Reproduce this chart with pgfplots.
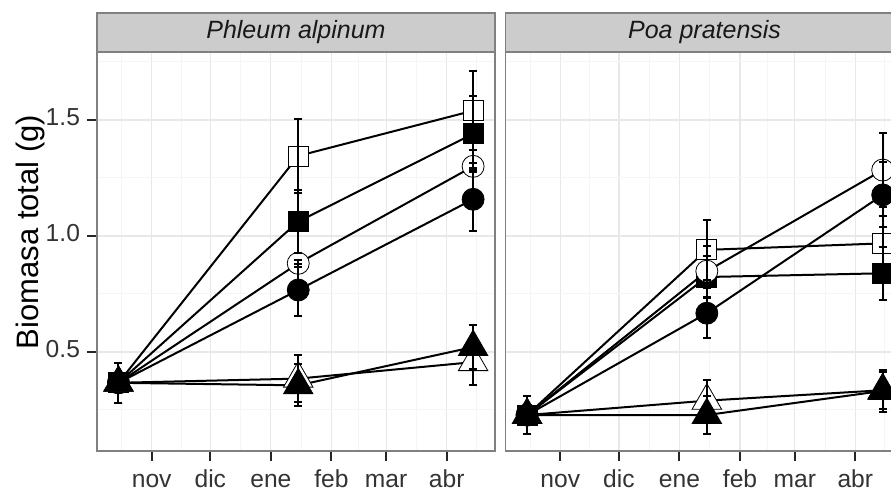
\documentclass[border=0pt]{standalone}
\usepackage{fontspec}
\setmainfont{Liberation Sans}
\usepackage{pgfplots}
\usepackage{pgfplotstable}
\pgfplotsset{compat=1.18}

\definecolor{stripfill}{gray}{0.8}
\definecolor{bordergray}{gray}{0.5}
\definecolor{gridmaj}{gray}{0.91}
\definecolor{gridmin}{gray}{0.96}

% columns: OS = open square, FS = filled square, OC = open circle,
% FC = filled circle, OT = open triangle, FT = filled triangle
\pgfplotstableread{
x     y1    e1    y2    e2    y3    e3    y4    e4    y5    e5    y6    e6
-17   0.367 0.085 0.367 0.085 0.367 0.085 0.367 0.085 0.367 0.085 0.367 0.085
75    1.345 0.160 1.062 0.135 0.882 0.015 0.767 0.110 0.385 0.100 0.356 0.090
164.5 1.540 0.170 1.440 0.165 1.300 0.015 1.158 0.135 0.456 0.100 0.521 0.095
}\leftdata

\pgfplotstableread{
x     y1    e1    y2    e2    y3    e3    y4    e4    y5    e5    y6    e6
-17   0.228 0.080 0.228 0.080 0.228 0.080 0.228 0.080 0.228 0.080 0.228 0.080
75    0.940 0.130 0.823 0.090 0.848 0.110 0.667 0.108 0.290 0.090 0.228 0.080
165   0.968 0.120 0.839 0.115 1.284 0.160 1.177 0.140 0.335 0.080 0.332 0.090
}\rightdata

\pgfplotsset{
  panel/.style={
    scale only axis, width=199pt, height=199.5pt,
    xmin=-28, xmax=175.7, ymin=0.073, ymax=1.793,
    clip=false, clip marker paths=true,
    xtick={0,30,61,92,120,151},
    xticklabels={nov,dic,ene,feb,mar,abr},
    minor xtick={-15.5,15,45.5,76.5,106,135.5,166},
    ytick={0.5,1,1.5},
    minor ytick={0.25,0.75,1.25,1.75},
    grid=both,
    major grid style={gridmaj, line width=0.6pt},
    minor grid style={gridmin, line width=0.5pt},
    minor tick length=0pt,
    major tick length=5pt,
    tick align=outside,
    tick pos=left,
    axis line style={bordergray, line width=0.6pt},
    major tick style={black!85, line width=1pt},
    tick label style={font=\fontsize{12.3}{14}\selectfont, text=black!80},
    typeset ticklabels with strut,
  },
  ln/.style={black, line width=1pt, mark=none},
  mk/.style={black, only marks, mark options={solid, draw=black, line width=0.8pt}},
  m1/.style={mk, mark=square*, mark size=5pt, mark options={fill=white}},
  m2/.style={mk, mark=square*, mark size=5pt, mark options={fill=black}},
  m3/.style={mk, mark=*, mark size=5.5pt, mark options={fill=white}},
  m4/.style={mk, mark=*, mark size=5.5pt, mark options={fill=black}},
  m5/.style={mk, mark=triangle*, mark size=8.5pt, mark options={fill=white}},
  m6/.style={mk, mark=triangle*, mark size=8.5pt, mark options={fill=black}},
  eb/.style={draw=none, mark=none, forget plot,
    error bars/.cd, y dir=both, y explicit,
    error bar style={draw=black, line width=1pt},
    error mark options={rotate=90, mark size=2pt, line width=1pt, draw=black}},
}

\begin{document}
\begin{tikzpicture}
\useasboundingbox (0,0) rectangle (445.5pt,246pt);
\clip (0,0) rectangle (445.5pt,246pt);

\begin{axis}[panel, name=L, at={(48.5pt,20.5pt)}, anchor=south west,
  yticklabels={0.5,1.0,1.5}]
  \pgfplotsinvokeforeach{1,...,6}{
    \addplot[ln] table[x=x, y=y#1] {\leftdata};
  }
  \pgfplotsinvokeforeach{1,...,6}{
    \addplot[m#1] table[x=x, y=y#1] {\leftdata};
  }
  \pgfplotsinvokeforeach{1,...,6}{
    \addplot[eb] table[x=x, y=y#1, y error=e#1] {\leftdata};
  }
\end{axis}

\begin{axis}[panel, name=R, at={(252.8pt,20.5pt)}, anchor=south west,
  ymajorticks=false]
  \pgfplotsinvokeforeach{1,...,6}{
    \addplot[ln] table[x=x, y=y#1] {\rightdata};
  }
  \pgfplotsinvokeforeach{1,...,6}{
    \addplot[m#1] table[x=x, y=y#1] {\rightdata};
  }
  \pgfplotsinvokeforeach{1,...,6}{
    \addplot[eb] table[x=x, y=y#1, y error=e#1] {\rightdata};
  }
\end{axis}

\draw[bordergray, fill=stripfill, line width=0.6pt] (L.north west) rectangle ([yshift=19.5pt]L.north east);
\node[font=\fontsize{12.5}{15}\selectfont\itshape, text=black!90] at ([yshift=9.75pt]L.north) {Phleum alpinum};
\draw[bordergray, fill=stripfill, line width=0.6pt] (R.north west) rectangle ([yshift=19.5pt]R.north east);
\node[font=\fontsize{12.5}{15}\selectfont\itshape, text=black!90] at ([yshift=9.75pt]R.north) {Poa pratensis};

\node[rotate=90, font=\fontsize{15.5}{18}\selectfont, text=black] at (15pt,130pt) {Biomasa total (g)};
\end{tikzpicture}
\end{document}
